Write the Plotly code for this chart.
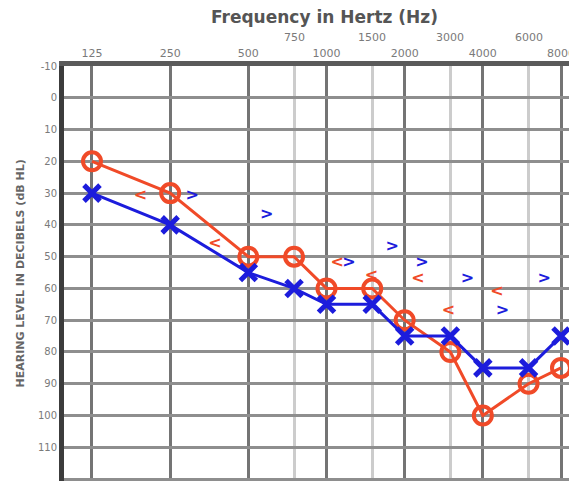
import numpy as np
import plotly.graph_objects as go

# Audiogram data
freqs = [125, 250, 500, 750, 1000, 1500, 2000, 3000, 4000, 6000, 8000]
right_ac = [20, 30, 50, 50, 60, 60, 70, 80, 100, 90, 85]   # red O
left_ac = [30, 40, 55, 60, 65, 65, 75, 75, 85, 85, 75]     # blue X

# bone conduction symbols (as plotted, slightly offset from the lines)
left_bc_f = [304, 589, 1220, 1790, 2330, 3490, 4760, 6900]
left_bc_db = [31, 37, 52, 47, 52, 57, 67, 57]
right_bc_f = [192, 372, 1100, 1489, 2250, 2946, 4537]
right_bc_db = [31, 46, 52, 56, 57, 67, 61]

octave_ticks = [125, 250, 500, 1000, 2000, 4000, 8000]
octave_labels = ["125", "250", "500", "1000", "2000", "4000", "8000"]
mid_ticks = [750, 1500, 3000, 6000]
mid_labels = ["750", "1500", "3000", "6000"]
db_ticks = list(range(-10, 121, 10))
db_labels = [str(v) for v in db_ticks]

RED = "#f04a28"
BLUE = "#1c1cdc"
GRAY_TXT = "#7a7a7a"
FONT = "DejaVu Sans"

fig = go.Figure()
fig.add_trace(go.Scatter(
    x=freqs, y=right_ac, mode="lines+markers",
    line=dict(color=RED, width=3),
    marker=dict(symbol="circle-open", size=18, color=RED, line=dict(width=4, color=RED)),
    showlegend=False))
fig.add_trace(go.Scatter(
    x=freqs, y=left_ac, mode="lines+markers",
    line=dict(color=BLUE, width=3),
    marker=dict(symbol="x-thin-open", size=16, color=BLUE, line=dict(width=5, color=BLUE)),
    showlegend=False))
fig.add_trace(go.Scatter(
    x=right_bc_f, y=right_bc_db, mode="text", text=["<b><</b>"] * len(right_bc_f),
    textfont=dict(family=FONT, size=16, color=RED), showlegend=False))
fig.add_trace(go.Scatter(
    x=left_bc_f, y=left_bc_db, mode="text", text=["<b>></b>"] * len(left_bc_f),
    textfont=dict(family=FONT, size=16, color=BLUE), showlegend=False))

annotations = []
for f, lab in zip(mid_ticks, mid_labels):
    annotations.append(dict(x=np.log10(f), xref="x", y=1 + (66 - 38) / 415, yref="paper",
                            text=lab, showarrow=False, yanchor="middle",
                            font=dict(family=FONT, size=11, color=GRAY_TXT)))
annotations.append(dict(x=(324 - 64) / 513, xref="paper", y=1 + (66 - 17) / 415, yref="paper",
                        text="<b>Frequency in Hertz (Hz)</b>", showarrow=False, yanchor="middle",
                        font=dict(family=FONT, size=17, color="#555555")))
annotations.append(dict(x=(20 - 64) / 513, xref="paper", y=0.5, yref="paper",
                        text="<b>HEARING LEVEL IN DECIBELS (dB HL)</b>", showarrow=False,
                        textangle=-90, xanchor="center", yanchor="middle",
                        font=dict(family=FONT, size=11, color="#666666")))

# page body has an 8px default margin; the figure is sized to fit the window
fig.update_layout(
    width=569, height=473,
    margin=dict(l=56, r=0, t=58, b=0),
    paper_bgcolor="white", plot_bgcolor="white",
    annotations=annotations,
    xaxis=dict(type="log", range=[1.9891, 3.9647], side="top", automargin=False,
               tickmode="array", tickvals=octave_ticks, ticktext=octave_labels,
               tickfont=dict(family=FONT, size=11, color=GRAY_TXT),
               showgrid=True, gridcolor="#747474", gridwidth=3,
               minor=dict(tickmode="array", tickvals=mid_ticks, showgrid=True,
                          gridcolor="#cccccc", gridwidth=3, ticks=""),
               showline=True, linecolor="#5a5a5a", linewidth=5, ticks="",
               zeroline=False),
    yaxis=dict(range=[120.6, -10], automargin=False,
               tickmode="array", tickvals=db_ticks, ticktext=db_labels,
               tickfont=dict(family=FONT, size=10, color=GRAY_TXT),
               showgrid=True, gridcolor="#8e8e8e", gridwidth=3,
               showline=True, linecolor="#3c3c3c", linewidth=5, ticks="",
               zeroline=False),
)

fig.write_html("out.html")
